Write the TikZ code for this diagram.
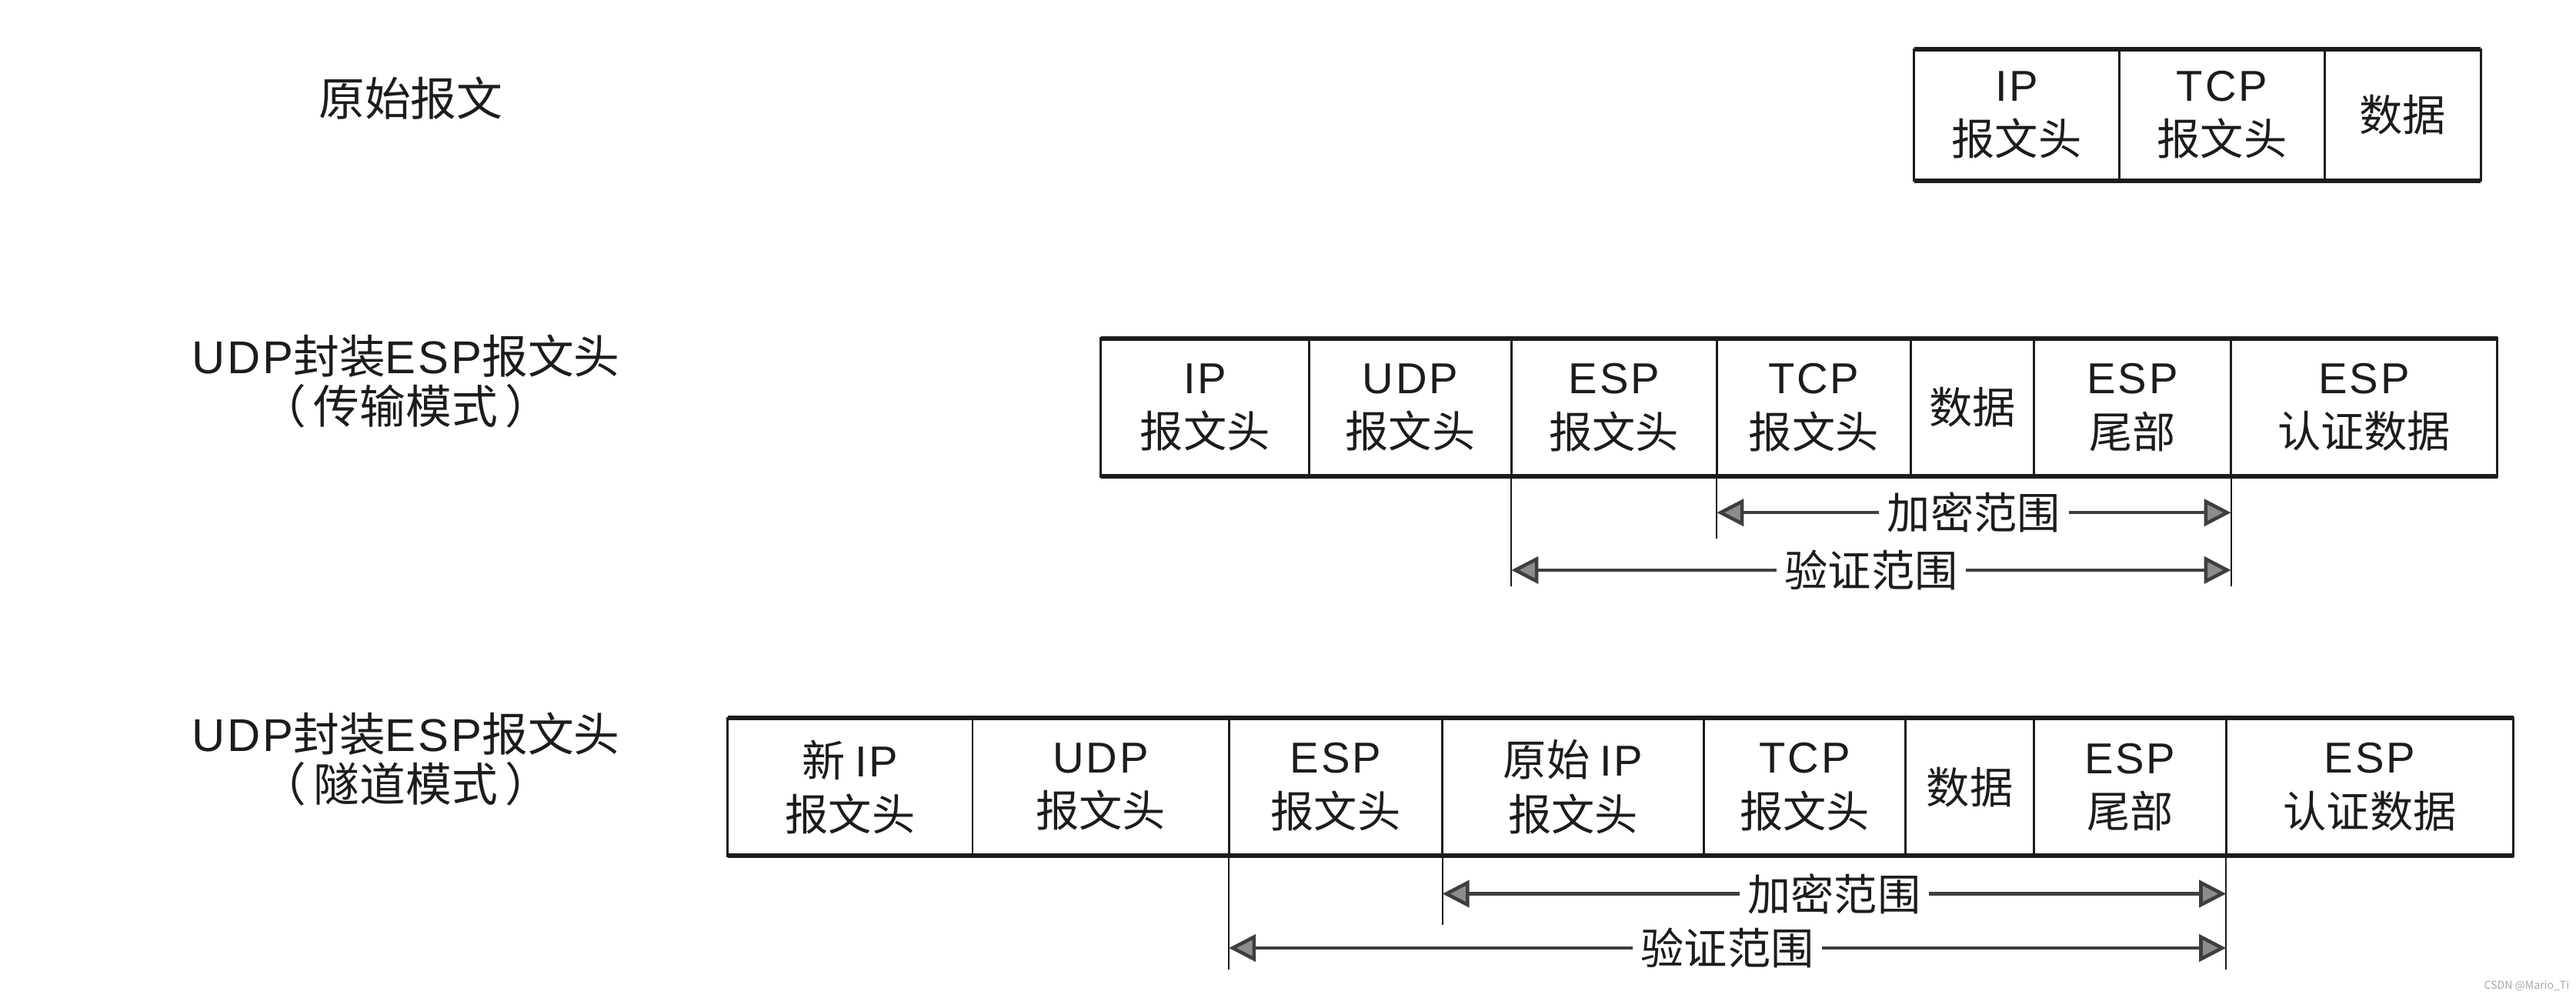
\documentclass[tikz,border=0pt]{standalone}
\usepackage{fontspec}
\setmainfont{Noto Sans CJK SC}
\newfontfamily\latin[LetterSpace=5]{Liberation Sans}
\newcommand{\en}[1]{{\latin #1}}
\usepackage{tikz}
\usetikzlibrary{arrows.meta,positioning}
\definecolor{ink}{HTML}{1C1C1C}
\definecolor{tipgray}{HTML}{8C8C8C}
\newcommand{\pxu}{0.02135cm}

\begin{document}
\begin{tikzpicture}[
  x=\pxu,y=-\pxu,
  every node/.style={font=\fontsize{16}{20}\selectfont,align=center,text=ink},
  cell/.style={draw=ink,line width=0.8pt,inner sep=0pt,outer sep=0pt,minimum width=#1*\pxu,minimum height=84*\pxu},
  hdr/.style={cell=#1,minimum height=80*\pxu},
  rim/.style={draw=ink,line width=1.7pt},
  guide/.style={draw=ink,line width=0.6pt},
  span/.style={{Triangle[length=3.5mm,width=3.5mm,fill=tipgray]}-{Triangle[length=3.5mm,width=3.5mm,fill=tipgray]},line width=1.3pt,draw=ink!85},
  lbl/.style={fill=white,inner sep=3pt},
  title/.style={font=\fontsize{17}{18.5}\selectfont}
]
\useasboundingbox (0,0) rectangle (1568,607);

\node[title] (orig) at (250,60) {原始报文};
\node[title] (trans) at (247,232) {\en{UDP}封装\en{ESP}报文头\\（\,传输模式\,）};
\node[title] (tunnel) at (247,462) {\en{UDP}封装\en{ESP}报文头\\（\,隧道模式\,）};

\node[hdr=125,anchor=west] (ip1) at (1165,70) {\en{IP}\\报文头};
\node[hdr=125,right=0pt of ip1] (tcp1) {\en{TCP}\\报文头};
\node[hdr=95,right=0pt of tcp1] (data1) {数据};
\draw[rim] (ip1.north west) -- (data1.north east);
\draw[rim] (ip1.south west) -- (data1.south east);

\node[cell=127,anchor=west] (ip2) at (670,248) {\en{IP}\\报文头};
\node[cell=123,right=0pt of ip2] (udp2) {\en{UDP}\\报文头};
\node[cell=125,right=0pt of udp2] (esp2) {\en{ESP}\\报文头};
\node[cell=118,right=0pt of esp2] (tcp2) {\en{TCP}\\报文头};
\node[cell=75,right=0pt of tcp2] (data2) {数据};
\node[cell=120,right=0pt of data2] (trl2) {\en{ESP}\\尾部};
\node[cell=162,right=0pt of trl2] (icv2) {\en{ESP}\\认证数据};
\draw[rim] (ip2.north west) -- (icv2.north east);
\draw[rim] (ip2.south west) -- (icv2.south east);

\draw[guide] (esp2.south west) -- ++(0,67);
\draw[guide] (tcp2.south west) -- ++(0,38);
\draw[guide] (trl2.south east) -- ++(0,67);
\path (tcp2.south west) ++(0,22) coordinate (enc2a);
\path (trl2.south east) ++(0,22) coordinate (enc2b);
\path (esp2.south west) ++(0,57) coordinate (auth2a);
\path (trl2.south east) ++(0,57) coordinate (auth2b);
\draw[span] (enc2a) -- (enc2b) node[midway,lbl] (enc2) {加密范围};
\draw[span] (auth2a) -- (auth2b) node[midway,lbl] (auth2) {验证范围};

\node[cell=149,anchor=west] (nip3) at (443,479) {新 \en{IP}\\报文头};
\node[cell=156,right=0pt of nip3] (udp3) {\en{UDP}\\报文头};
\node[cell=130,right=0pt of udp3] (esp3) {\en{ESP}\\报文头};
\node[cell=159,right=0pt of esp3] (oip3) {原始 \en{IP}\\报文头};
\node[cell=123,right=0pt of oip3] (tcp3) {\en{TCP}\\报文头};
\node[cell=78,right=0pt of tcp3] (data3) {数据};
\node[cell=117,right=0pt of data3] (trl3) {\en{ESP}\\尾部};
\node[cell=175,right=0pt of trl3] (icv3) {\en{ESP}\\认证数据};
\draw[rim] (nip3.north west) -- (icv3.north east);
\draw[rim] (nip3.south west) -- (icv3.south east);

\draw[guide] (esp3.south west) -- ++(0,69);
\draw[guide] (oip3.south west) -- ++(0,42);
\draw[guide] (trl3.south east) -- ++(0,69);
\path (oip3.south west) ++(0,23) coordinate (enc3a);
\path (trl3.south east) ++(0,23) coordinate (enc3b);
\path (esp3.south west) ++(0,56) coordinate (auth3a);
\path (trl3.south east) ++(0,56) coordinate (auth3b);
\draw[span] (enc3a) -- (enc3b) node[midway,lbl] (enc3) {加密范围};
\draw[span] (auth3a) -- (auth3b) node[midway,lbl] (auth3) {验证范围};

\node[font=\fontsize{4}{5}\selectfont,text=gray!70] (mark) at (1538,600) {CSDN @Mario\_Ti};
\end{tikzpicture}
\end{document}
